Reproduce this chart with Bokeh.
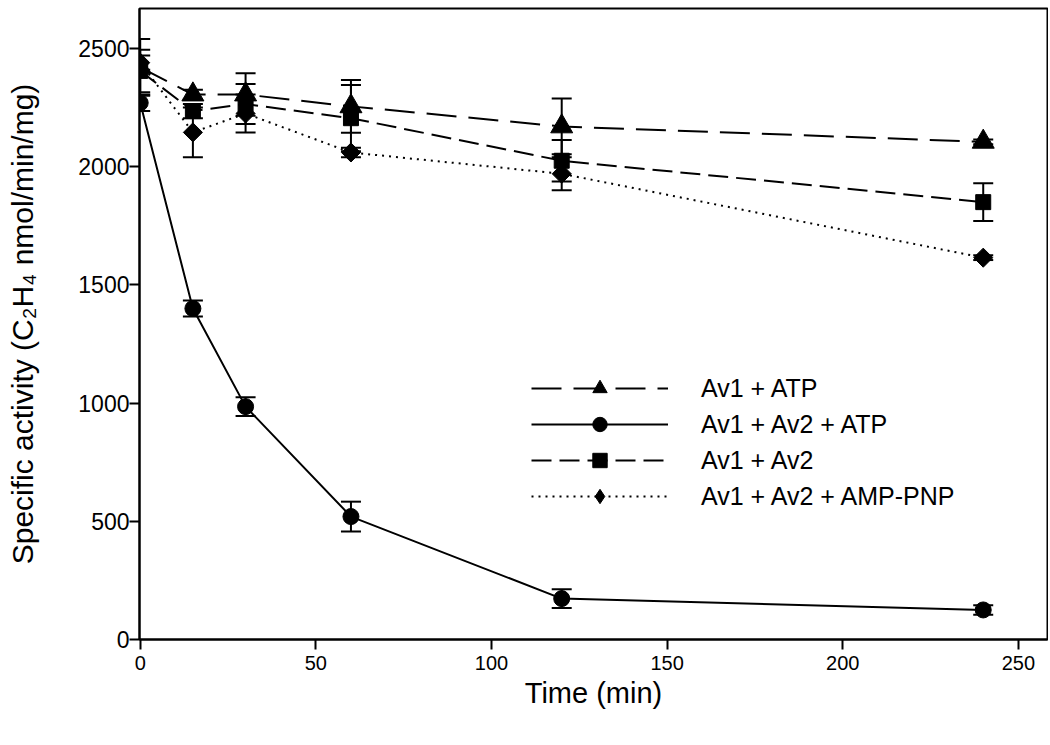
from bokeh.plotting import figure
from bokeh.models import ColumnDataSource, Whisker, TeeHead, Range1d, Legend, LegendItem, FixedTicker
from bokeh.embed import file_html
from bokeh.resources import INLINE

time = [0, 15, 30, 60, 120, 240]

atp = [2420, 2305, 2305, 2255, 2170, 2105]
atp_err = [120, 20, 90, 112, 118, 10]

av2_atp = [2270, 1400, 985, 520, 173, 125]
av2_atp_err = [35, 34, 40, 63, 40, 20]

av2 = [2405, 2235, 2265, 2205, 2025, 1850]
av2_err = [90, 30, 85, 140, 88, 80]

amppnp = [2440, 2145, 2225, 2060, 1970, 1615]
amppnp_err = [30, 105, 80, 20, 70, 10]

labels = ["Av1 + ATP", "Av1 + Av2 + ATP", "Av1 + Av2", "Av1 + Av2 + AMP-PNP"]
x_ticks = [0, 50, 100, 150, 200, 250]
y_ticks = [0, 500, 1000, 1500, 2000, 2500]

FONT = "Liberation Sans"

p = figure(width=1048, height=740, output_backend="svg", toolbar_location=None,
           x_range=Range1d(-0.2, 258.3), y_range=Range1d(0, 2669),
           min_border_left=139, min_border_right=1, min_border_top=8, min_border_bottom=101)
p.grid.visible = False
p.outline_line_color = "black"
p.outline_line_width = 2
p.background_fill_color = "white"
p.border_fill_color = "white"

for ax in (p.xaxis[0], p.yaxis[0]):
    ax.axis_line_width = 2
    ax.major_tick_line_width = 2
    ax.major_tick_out = 10
    ax.major_tick_in = 0
    ax.minor_tick_out = 0
    ax.minor_tick_in = 0
    ax.major_label_text_font = FONT
    ax.axis_label_text_font = FONT
    ax.axis_label_text_font_style = "normal"
    ax.major_label_text_color = "black"
    ax.axis_label_text_color = "black"

p.xaxis.ticker = FixedTicker(ticks=x_ticks)
p.yaxis.ticker = FixedTicker(ticks=y_ticks)
p.xaxis.major_label_text_font_size = "20px"
p.yaxis.major_label_text_font_size = "23px"
p.xaxis.major_label_standoff = 6
p.yaxis.major_label_standoff = 0
p.xaxis.axis_label = "Time (min)"
p.yaxis.axis_label = "Specific activity (C\u2082H\u2084 nmol/min/mg)"
p.xaxis.axis_label_text_font_size = "29px"
p.yaxis.axis_label_text_font_size = "30px"
p.xaxis.axis_label_standoff = 4
p.yaxis.axis_label_standoff = 36

series = [
    (atp, atp_err, "triangle", 22, 0.0, "30 12", "triangle"),
    (av2_atp, av2_atp_err, "circle", 16, 0.0, "solid", "circle"),
    (av2, av2_err, "square", 15, 0.0, "20 8", "square"),
    (amppnp, amppnp_err, "square", 13.5, 0.785398, "2 5", "diamond"),
]

items = []
for (vals, errs, marker, size, ang, dash, leg_marker), lab in zip(series, labels):
    src = ColumnDataSource(dict(x=time, y=vals,
                                upper=[v + e for v, e in zip(vals, errs)],
                                lower=[v - e for v, e in zip(vals, errs)]))
    w = Whisker(source=src, base="x", upper="upper", lower="lower",
                line_color="black", line_width=2,
                upper_head=TeeHead(size=20, line_width=2, line_color="black"),
                lower_head=TeeHead(size=20, line_width=2, line_color="black"))
    p.add_layout(w)
    r1 = p.line("x", "y", source=src, line_color="black", line_width=2, line_dash=dash)
    r2 = p.scatter("x", "y", source=src, marker=marker, size=size, angle=ang,
                   fill_color="black", line_color="black")
    if leg_marker != marker:
        # legend-only marker (legend glyphs are never rotated)
        r3 = p.scatter("x", "y", source=src, marker=leg_marker, size=size,
                       fill_color="black", line_color="black", visible=False)
        items.append(LegendItem(label=lab, renderers=[r1, r3]))
    else:
        items.append(LegendItem(label=lab, renderers=[r1, r2]))

legend = Legend(items=items, location=(392, 125), glyph_width=137, glyph_height=36,
                label_standoff=33, spacing=0, padding=0, margin=0,
                border_line_alpha=0, background_fill_alpha=0,
                label_text_font=FONT, label_text_font_size="25px",
                label_text_color="black", label_height=36)
p.add_layout(legend)

open("out.html", "w").write(file_html(p, INLINE))
